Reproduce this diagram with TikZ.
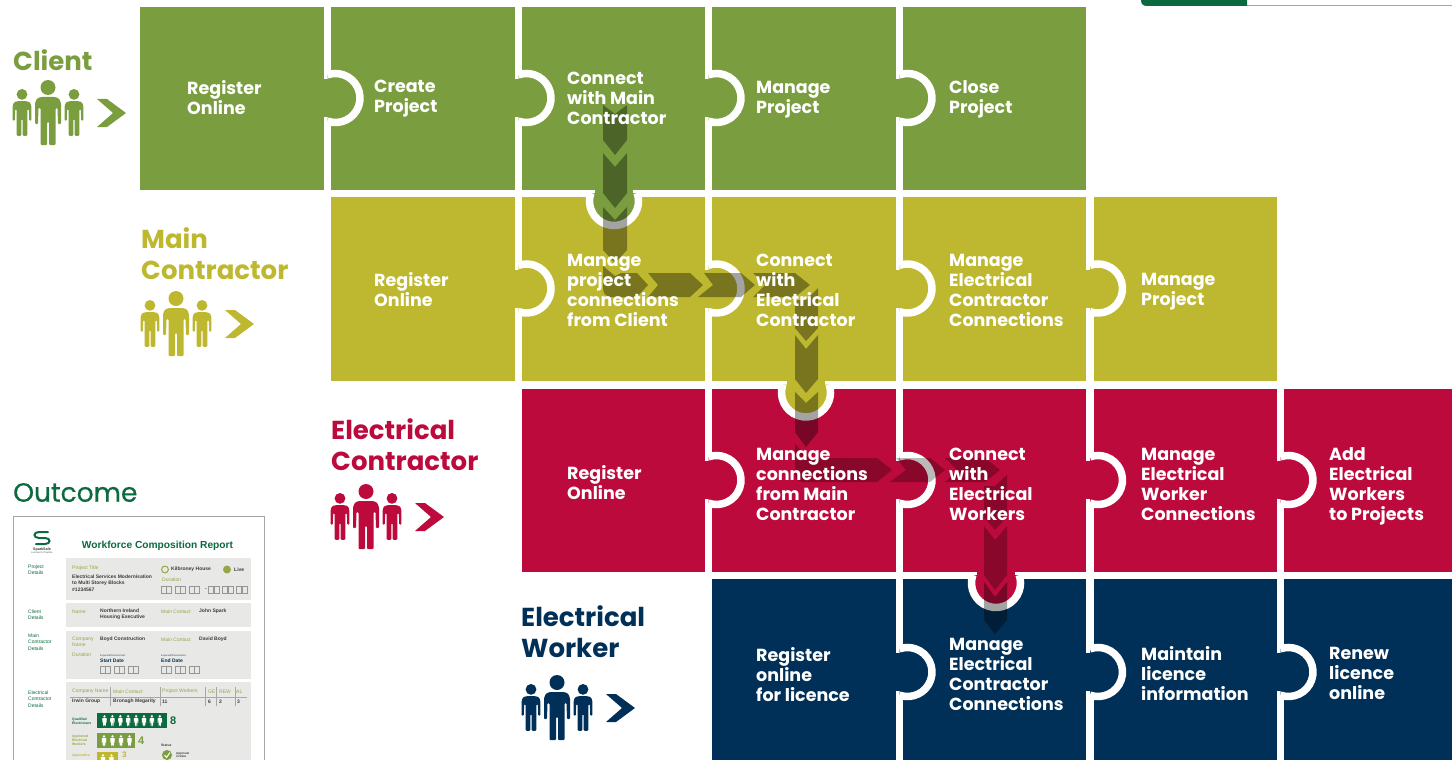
\documentclass[tikz,border=0pt]{standalone}
\usepackage{fontspec}
\setmainfont{Poppins}
\newfontfamily\smallfont{Liberation Sans}
\newfontfamily\outfont[FakeBold=0.5]{Poppins}
\definecolor{cgreen}{RGB}{122,158,63}
\definecolor{colive}{RGB}{190,184,48}
\definecolor{cred}{RGB}{188,10,60}
\definecolor{cnavy}{RGB}{0,48,87}
\definecolor{cdark}{RGB}{11,106,63}
\definecolor{cpanel}{RGB}{232,232,230}
\definecolor{cbox}{RGB}{150,150,150}
\definecolor{ctext}{RGB}{60,60,60}
\definecolor{ctxtolive}{RGB}{150,165,70}
\pgfdeclarelayer{fg}
\pgfsetlayers{main,fg}
\tikzset{
  tiletext/.style={text=white,font=\bfseries\fontsize{17.5}{20}\selectfont,align=left,anchor=west,inner sep=0pt,yshift=-2.5pt,
    execute at begin node={\rule[-6pt]{0pt}{20pt}},execute at end node={\rule[-6pt]{0pt}{20pt}}},
  heading/.style={font=\bfseries\fontsize{26}{31}\selectfont,align=left,anchor=west,inner sep=0pt,yshift=-3.7pt,
    execute at begin node={\rule[-9pt]{0pt}{31pt}},execute at end node={\rule[-9pt]{0pt}{31pt}}},
  chev/.style={fill=black,fill opacity=.36,draw=none},
  chevr/.style={fill=black,fill opacity=.27,draw=none},
  ringline/.style={draw=white,line width=7.5pt},
  tiny/.style={font=\smallfont\fontsize{5}{6.3}\selectfont,align=left,anchor=west,inner sep=0pt},
  tinyb/.style={font=\smallfont\bfseries\fontsize{5}{6.3}\selectfont,align=left,anchor=west,inner sep=0pt,text=ctext},
  tinyo/.style={tiny,text=ctxtolive},
  tinyg/.style={tiny,text=cdark},
  panel/.style={fill=cpanel,draw=none},
  datebox/.style={draw=cbox,line width=.5pt,fill=none},
}
% name, x0, y0, x1, y1, colour, text x, text y, text
\newcommand{\tile}[9]{%
  \node[fill=#6,draw=none,inner sep=0pt,anchor=north west,minimum width={(#4-#2)*1pt},minimum height={(#5-#3)*1pt}] (#1) at (#2,#3) {};
  \begin{pgfonlayer}{fg}\node[tiletext] (#1t) at (#7,#8) {#9};\end{pgfonlayer}%
}
\newcommand{\htab}[3]{% boundary x, y, colour
  \fill[#3] (#1-4.5,#2-19) rectangle (#1+1,#2+19);
  \fill[#3] ({#1+8+24.5*cos(109)},{#2+24.5*sin(109)}) arc[start angle=109,end angle=-109,radius=24.5] -- cycle;
  \draw[ringline] ({#1+8+24.5*cos(109)},{#2+24.5*sin(109)}) arc[start angle=109,end angle=-109,radius=24.5];
}
\newcommand{\vtab}[3]{% x, boundary y, colour
  \fill[#3] (#1-19,#2-4.5) rectangle (#1+19,#2+1);
  \fill[#3] ({#1-24.5*cos(19)},{#2+7.5-24.5*sin(19)}) arc[start angle=161,end angle=379,radius=24.5,y radius=-24.5] -- cycle;
  \draw[ringline] ({#1-24.5*cos(19)},{#2+7.5-24.5*sin(19)}) arc[start angle=161,end angle=379,radius=24.5,y radius=-24.5];
}
\newcommand{\person}[4]{% cx, top, scale, colour
  \begin{scope}[shift={(#1,#2)},x=#3pt,y=-#3pt]
    \fill[#4] (0,7.5) circle[radius=7.5];
    \fill[#4,rounded corners=1pt] (-7,17) -- (-11,18.5) -- (-13,23) -- (-13,44) -- (-10,44) -- (-9.5,28) -- (-7.5,28) -- (-7.5,65) -- (-1,65) -- (-1,42) -- (1,42) -- (1,65) -- (7.5,65) -- (7.5,28) -- (9.5,28) -- (10,44) -- (13,44) -- (13,23) -- (11,18.5) -- (7,17) -- cycle;
  \end{scope}
}
\newcommand{\people}[3]{% big cx, top, colour
  \person{#1}{#2}{1}{#3}
  \person{#1-26}{#2+9}{0.72}{#3}
  \person{#1+26}{#2+9}{0.72}{#3}
  \fill[#3] (#1+49,#2+19) -- (#1+59,#2+19) -- (#1+78,#2+33) -- (#1+59,#2+47) -- (#1+49,#2+47) -- (#1+65,#2+33) -- cycle;
}
\newcommand{\dboxes}[3]{% x, y, count groups
  \foreach \g in {0,...,#3}{
    \foreach \k in {0,1}{
      \draw[datebox] ({#1+\g*14+\k*5.6},#2) rectangle ++(4.8,7);
    }
  }
}
\begin{document}
\begin{tikzpicture}[x=1pt,y=-1pt]
\useasboundingbox (0,0) rectangle (1452,760);
\clip (0,0) rectangle (1452,760);
% top tab
\draw[gray!70,line width=1pt] (1240,5.5) -- (1452,5.5);
\fill[cdark] (1141,-2) -- (1141,0) .. controls (1141,4) and (1143,6) .. (1147,6) -- (1247,6) -- (1247,-2) -- cycle;

% row 0
\tile{a0}{140}{7}{324}{190}{cgreen}{187}{98}{Register\\Online}
\tile{a1}{331}{7}{515}{190}{cgreen}{374}{97}{Create\\Project}
\tile{a2}{522}{7}{705}{190}{cgreen}{567}{99}{Connect\\with Main\\Contractor}
\tile{a3}{712}{7}{896}{190}{cgreen}{756}{98}{Manage\\Project}
\tile{a4}{903}{7}{1086}{190}{cgreen}{949}{98}{Close\\Project}
% row 1
\tile{b1}{331}{197}{515}{381}{colive}{374}{289.5}{Register\\Online}
\tile{b2}{522}{197}{705}{381}{colive}{567}{291}{Manage\\project\\connections\\from Client}
\tile{b3}{712}{197}{896}{381}{colive}{756}{291}{Connect\\with\\Electrical\\Contractor}
\tile{b4}{903}{197}{1086}{381}{colive}{949}{291}{Manage\\Electrical\\Contractor\\Connections}
\tile{b5}{1094}{197}{1277}{381}{colive}{1141}{289.5}{Manage\\Project}
% row 2
\tile{c2}{522}{389}{705}{572}{cred}{567}{483}{Register\\Online}
\tile{c3}{712}{389}{896}{572}{cred}{756}{485}{Manage\\connections\\from Main\\Contractor}
\tile{c4}{903}{389}{1086}{572}{cred}{949}{485}{Connect\\with\\Electrical\\Workers}
\tile{c5}{1094}{389}{1277}{572}{cred}{1141}{485}{Manage\\Electrical\\Worker\\Connections}
\tile{c6}{1284}{389}{1460}{572}{cred}{1329}{485}{Add\\Electrical\\Workers\\to Projects}
% row 3
\tile{d3}{712}{579}{896}{768}{cnavy}{756}{674.5}{Register\\online\\for licence}
\tile{d4}{903}{579}{1086}{768}{cnavy}{949}{675}{Manage\\Electrical\\Contractor\\Connections}
\tile{d5}{1094}{579}{1277}{768}{cnavy}{1141}{673.5}{Maintain\\licence\\information}
\tile{d6}{1284}{579}{1460}{768}{cnavy}{1329}{673.5}{Renew\\licence\\online}

% horizontal tabs
\htab{327.5}{98}{cgreen}\htab{518.5}{98}{cgreen}\htab{708.5}{98}{cgreen}\htab{899.5}{98}{cgreen}
\htab{518.5}{288.5}{colive}\htab{708.5}{288.5}{colive}\htab{899.5}{288.5}{colive}\htab{1090}{288.5}{colive}
\htab{708.5}{480}{cred}\htab{899.5}{480}{cred}\htab{1090}{480}{cred}\htab{1280.5}{480}{cred}
\htab{899.5}{672}{cnavy}\htab{1090}{672}{cnavy}\htab{1280.5}{672}{cnavy}
% vertical tabs
\vtab{614}{193.5}{cgreen}
\vtab{806}{385}{colive}
\vtab{996}{575.5}{cred}

% chevron arrows: client to main contractor
\fill[chev] (603,105) -- (615,114) -- (627,105) -- (627,140) -- (615,155) -- (603,140) -- cycle;
\fill[chev] (603,153) -- (615,167) -- (627,153) -- (627,193) -- (615,208) -- (603,193) -- cycle;
\fill[chev] (603,207) -- (615,220) -- (627,207) -- (627,250) -- (615,263) -- (603,250) -- cycle;
\fill[chev] (603,266) -- (615,276) -- (621,273) -- (637,273) -- (648,285) -- (637,297) -- (612,297) .. controls (606,297) and (603,294) .. (603,288) -- cycle;
\fill[chev] (648,273) -- (658,285) -- (648,297) -- (690,297) -- (703,285) -- (690,273) -- cycle;
\fill[chev] (704,273) -- (713,285) -- (698,297) -- (741,297) -- (755,285) -- (741,273) -- cycle;
\fill[chev] (753,273) -- (765,285) -- (753,297) -- (795,297) -- (810,285) -- (795,273) -- cycle;
% main contractor to electrical contractor
\fill[chev] (818,288) -- (806,300) -- (795,300) -- (795,328) -- (806,341) -- (818,328) -- cycle;
\fill[chev] (795,335) -- (806,349) -- (818,335) -- (818,379) -- (806,393) -- (795,379) -- cycle;
\fill[chev] (795,392) -- (806,403) -- (818,392) -- (818,432) -- (806,447) -- (795,432) -- cycle;
\fill[chevr] (795,444) -- (806,456) -- (812,458) -- (838,458) -- (850,470) -- (838,482) -- (804,482) .. controls (798,482) and (795,479) .. (795,473) -- cycle;
\fill[chevr] (838,458) -- (850,470) -- (838,482) -- (877,482) -- (892,470) -- (877,458) -- cycle;
\fill[chevr] (896,458) -- (906,470) -- (890,482) -- (930,482) -- (945,470) -- (930,458) -- cycle;
\fill[chevr] (945,458) -- (957,470) -- (945,482) -- (985,482) -- (1000,470) -- (985,458) -- cycle;
% electrical contractor to electrical worker
\fill[chevr] (1007,475) -- (995,486) -- (984,486) -- (984,517) -- (995,530) -- (1007,517) -- cycle;
\fill[chevr] (984,526) -- (995,540) -- (1007,526) -- (1007,575) -- (995,590) -- (984,575) -- cycle;
\fill[chev] (984,582) -- (995,597) -- (1007,582) -- (1007,620) -- (995,634) -- (984,620) -- cycle;

% headings and people
\node[heading,text=cgreen] (h1) at (13,60) {Client};
\people{48}{80}{cgreen}
\node[heading,text=colive] (h2) at (141,254.5) {Main\\Contractor};
\people{176}{291}{colive}
\node[heading,text=cred] (h3) at (331,445.5) {Electrical\\Contractor};
\people{366}{484}{cred}
\node[heading,text=cnavy] (h4) at (521,632.5) {Electrical\\Worker};
\people{557}{675}{cnavy}

% outcome
\node[font=\outfont\fontsize{26.5}{30}\selectfont,text=cdark,anchor=west,inner sep=0pt] (outcome) at (13,492.5) {Outcome};
\draw[gray!70,line width=1pt,fill=white] (13,516) rectangle (264.5,780);
% logo
\draw[cdark,line width=2pt,line cap=round] (48,532) -- (39,532) .. controls (33,532) and (33,538) .. (39,538) -- (45,538) .. controls (51,538) and (51,544) .. (45,544) -- (36,544);
\node[font=\smallfont\bfseries\fontsize{3.6}{4}\selectfont,text=black!80,inner sep=0pt] (logo) at (42,549.5) {SparkSafe};
\node[font=\smallfont\fontsize{2.5}{3}\selectfont,text=black!70,inner sep=0pt] (logosub) at (42,553) {Licence to Practice};
\node[font=\smallfont\bfseries\fontsize{10.2}{11}\selectfont,text=cdark,inner sep=0pt] (title) at (157.5,546) {Workforce Composition Report};
% panels
\fill[panel] (66,558) rectangle (251,599.5);
\fill[panel] (66,603) rectangle (251,627);
\fill[panel] (66,631) rectangle (251,679);
\fill[panel] (66,682) rectangle (251,770);
% section labels
\node[tinyg] (s1) at (28,569.5) {Project\\Details};
\node[tinyg] (s2) at (28,615) {Client\\Details};
\node[tinyg] (s3) at (28,642) {Main\\Contractor\\Details};
\node[tinyg] (s4) at (28,699) {Electrical\\Contractor\\Details};
% panel 1
\node[tinyo] (p1a) at (72,568) {Project Title};
\node[tinyb] (p1b) at (72,583) {Electrical Services Modernisation\\to Multi Storey Blocks\\\#1234567};
\draw[ctxtolive,line width=1pt] (165,569.5) circle[radius=3.4];
\node[tinyb] (p1c) at (171,569.5) {Kilbroney House};
\fill[ctxtolive] (227,569.5) circle[radius=4];
\node[tinyb] (p1d) at (234,569.5) {Live};
\node[tinyo] (p1e) at (162,579.5) {Duration};
\dboxes{161}{586.5}{2}
\node[tinyb] (p1f) at (205,590) {-};
\dboxes{208.5}{586.5}{2}
% panel 2
\node[tinyo] (p2a) at (72,611.5) {Name};
\node[tinyb] (p2b) at (100,614.5) {Northern Ireland\\Housing Executive};
\node[tinyo] (p2c) at (161,611.5) {Main Contact};
\node[tinyb] (p2d) at (199,611.5) {John Spark};
% panel 3
\node[tinyo] (p3a) at (72,642) {Company\\Name};
\node[tinyb] (p3b) at (100,639.5) {Boyd Construction};
\node[tinyo] (p3c) at (161,639.5) {Main Contact};
\node[tinyb] (p3d) at (199,639.5) {David Boyd};
\node[tinyo] (p3e) at (72,654.5) {Duration};
\node[font=\smallfont\fontsize{2.4}{3}\selectfont,text=ctext,anchor=west,inner sep=0pt] (p3f) at (100,656) {Expected/Planned Start};
\node[font=\smallfont\bfseries\fontsize{5}{6}\selectfont,text=cnavy,anchor=west,inner sep=0pt] (p3g) at (100,661) {Start Date};
\node[font=\smallfont\fontsize{2.4}{3}\selectfont,text=ctext,anchor=west,inner sep=0pt] (p3h) at (161,656) {Expected/Planned End};
\node[font=\smallfont\bfseries\fontsize{5}{6}\selectfont,text=cnavy,anchor=west,inner sep=0pt] (p3i) at (161,661) {End Date};
\dboxes{100}{666}{2}
\dboxes{161}{666}{2}
% panel 4
\node[tinyo] (t1) at (72,691.5) {Company Name};
\node[tinyo] (t2) at (113,691.5) {Main Contact};
\node[tinyo] (t3) at (162,691.5) {Project Workers};
\node[tinyo] (t4) at (208,691.5) {GE};
\node[tinyo] (t5) at (219,691.5) {REW};
\node[tinyo] (t6) at (236,691.5) {AL};
\draw[gray!70,line width=.4pt] (70,697) -- (247,697);
\foreach \vx in {110,160,205,216,235}{\draw[gray!70,line width=.4pt] (\vx,687) -- (\vx,706);}
\node[tinyb] (r1) at (72,701.5) {Irwin Group};
\node[tinyb] (r2) at (113,701.5) {Bronagh Megarity};
\node[tinyb] (r3) at (162,701.5) {11};
\node[tinyb] (r4) at (208,701.5) {6};
\node[tinyb] (r5) at (219,701.5) {2};
\node[tinyb] (r6) at (237,701.5) {3};
\node[font=\smallfont\bfseries\fontsize{3.4}{4.2}\selectfont,text=cdark,anchor=west,align=left,inner sep=0pt] (q1) at (72,721) {Qualified\\Electricians};
\fill[cdark] (97,713) rectangle (167,728);
\foreach \i in {0,...,7}{\person{104.5+\i*7.9}{715}{0.17}{white}}
\node[font=\smallfont\bfseries\fontsize{11}{12}\selectfont,text=cdark,anchor=west,inner sep=0pt] (n1) at (170,721) {8};
\node[font=\smallfont\bfseries\fontsize{3.4}{4.2}\selectfont,text=ctxtolive,anchor=west,align=left,inner sep=0pt] (q2) at (72,740) {Approved\\Electrical\\Workers};
\fill[cgreen] (97,733) rectangle (135,747.5);
\foreach \i in {0,...,3}{\person{104+\i*8.5}{735}{0.17}{white}}
\node[font=\smallfont\bfseries\fontsize{11}{12}\selectfont,text=cgreen,anchor=west,inner sep=0pt] (n2) at (138,740.5) {4};
\node[font=\smallfont\bfseries\fontsize{3.4}{4.2}\selectfont,text=colive,anchor=west,align=left,inner sep=0pt] (q3) at (72,756) {Apprentice};
\fill[colive] (97,752) rectangle (118,770);
\foreach \i in {0,1}{\person{103+\i*8.5}{754}{0.17}{white}}
\node[font=\smallfont\bfseries\fontsize{8}{9}\selectfont,text=colive,anchor=west,inner sep=0pt] (n3) at (122,755) {3};
\node[font=\smallfont\bfseries\fontsize{3.4}{4.2}\selectfont,text=ctext,anchor=west,inner sep=0pt] (st) at (161,745) {Status};
\fill[cgreen] (167,755) circle[radius=5];
\draw[white,line width=1pt] (164.5,755) -- (166.5,757.5) -- (170,752.5);
\node[font=\smallfont\bfseries\fontsize{3}{3.8}\selectfont,text=ctext,anchor=west,align=left,inner sep=0pt] (ap) at (176,755) {Approval\\in Date};
\end{tikzpicture}
\end{document}
